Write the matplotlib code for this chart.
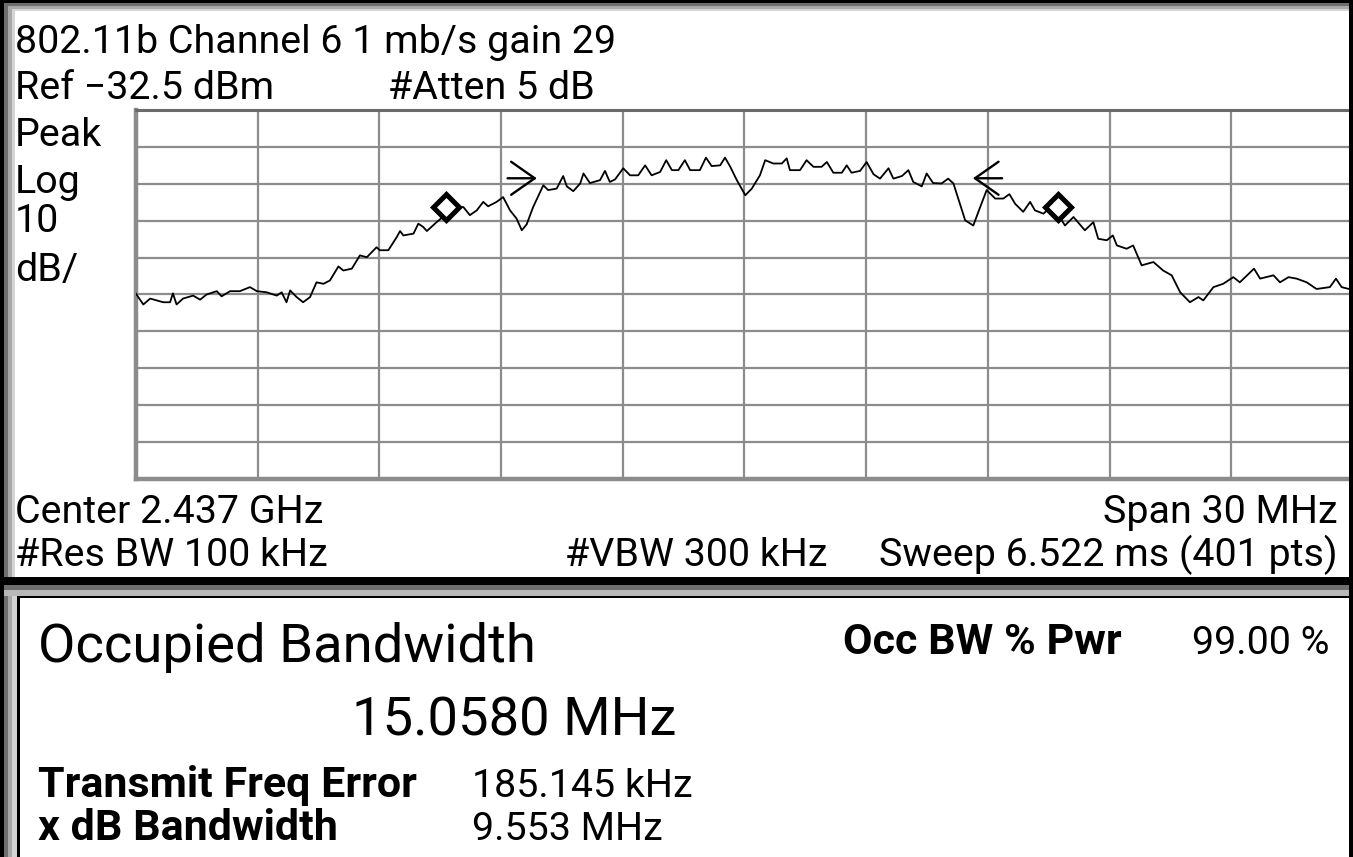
import matplotlib
matplotlib.use("Agg")
import matplotlib.pyplot as plt
from matplotlib.patches import Rectangle

W, H = 1353, 857

# spectrum trace (MHz, dBm)
freq_mhz = [
    2422.00, 2422.18, 2422.35, 2422.67, 2422.84, 2422.91, 2423.00, 2423.16, 2423.41, 2423.58,
    2423.74, 2423.99, 2424.11, 2424.32, 2424.56, 2424.81, 2424.98, 2425.22, 2425.47, 2425.59,
    2425.71, 2425.80, 2425.96, 2426.12, 2426.29, 2426.45, 2426.62, 2426.78, 2426.99, 2427.11,
    2427.32, 2427.52, 2427.69, 2427.93, 2428.01, 2428.22, 2428.43, 2428.51, 2428.59, 2428.84,
    2428.96, 2429.08, 2429.17, 2429.41, 2429.66, 2429.95, 2430.07, 2430.23, 2430.40, 2430.56,
    2430.68, 2430.89, 2431.05, 2431.22, 2431.38, 2431.51, 2431.63, 2431.79, 2432.04, 2432.16,
    2432.37, 2432.53, 2432.62, 2432.78, 2432.95, 2433.03, 2433.19, 2433.44, 2433.56, 2433.68,
    2433.81, 2434.01, 2434.18, 2434.38, 2434.55, 2434.71, 2434.92, 2435.07, 2435.21, 2435.37,
    2435.53, 2435.66, 2435.90, 2436.05, 2436.19, 2436.40, 2436.52, 2436.65, 2436.81, 2437.02,
    2437.18, 2437.38, 2437.51, 2437.71, 2437.92, 2438.04, 2438.12, 2438.37, 2438.53, 2438.70,
    2438.90, 2439.03, 2439.19, 2439.40, 2439.52, 2439.64, 2439.85, 2440.01, 2440.18, 2440.34,
    2440.55, 2440.67, 2440.88, 2441.04, 2441.16, 2441.37, 2441.49, 2441.65, 2441.86, 2442.02,
    2442.15, 2442.31, 2442.44, 2442.64, 2442.81, 2442.97, 2443.18, 2443.38, 2443.53, 2443.67,
    2443.87, 2444.04, 2444.16, 2444.37, 2444.53, 2444.74, 2444.90, 2445.11, 2445.39, 2445.60,
    2445.72, 2445.93, 2446.08, 2446.18, 2446.42, 2446.58, 2446.79, 2447.08, 2447.32, 2447.53,
    2447.74, 2447.98, 2448.19, 2448.31, 2448.56, 2448.80, 2449.05, 2449.21, 2449.56, 2449.71,
    2450.04, 2450.20, 2450.41, 2450.61, 2450.86, 2451.10, 2451.43, 2451.58, 2451.72, 2451.97,
]
level_dbm = [
    -82.3, -85.2, -83.6, -84.6, -84.6, -82.2, -85.2, -83.6, -82.8, -83.9,
    -82.5, -81.6, -83.0, -81.6, -81.6, -80.5, -81.6, -81.9, -82.8, -81.9,
    -84.6, -81.4, -83.2, -84.6, -83.2, -79.2, -79.6, -78.7, -74.9, -76.0,
    -75.5, -71.9, -72.4, -69.7, -70.5, -70.5, -66.9, -65.3, -66.5, -66.0,
    -63.3, -64.2, -65.3, -62.9, -60.6, -58.8, -58.8, -61.0, -59.7, -57.4,
    -58.6, -57.4, -56.1, -59.7, -61.9, -65.1, -63.5, -58.8, -52.9, -54.2,
    -53.8, -50.4, -53.2, -54.5, -52.4, -49.7, -52.3, -51.5, -49.0, -52.0,
    -51.3, -48.3, -50.2, -50.2, -47.5, -50.2, -49.3, -46.1, -48.8, -48.8,
    -46.1, -48.8, -48.8, -45.4, -47.7, -47.5, -45.4, -47.9, -51.5, -55.6,
    -53.8, -50.2, -46.1, -47.0, -47.0, -45.6, -48.8, -48.8, -46.1, -47.9,
    -47.9, -46.6, -49.5, -49.5, -47.5, -49.5, -49.0, -46.6, -49.9, -51.1,
    -48.3, -51.1, -50.4, -48.8, -52.0, -53.2, -49.7, -52.3, -52.4, -51.1,
    -52.4, -57.9, -62.4, -63.8, -58.8, -54.2, -56.5, -56.5, -55.3, -57.9,
    -60.1, -57.4, -59.7, -60.6, -58.9, -61.0, -63.8, -61.5, -65.1, -62.9,
    -67.4, -67.8, -66.5, -69.2, -70.1, -69.2, -74.6, -73.7, -76.0, -77.3,
    -81.9, -84.6, -83.2, -84.1, -80.5, -79.6, -77.8, -79.2, -75.5, -78.2,
    -77.3, -79.2, -77.8, -78.2, -79.2, -81.0, -80.5, -78.2, -80.5, -81.2,
]

# occupied bandwidth markers and x dB bandwidth arrows
obw_marker_freq = [2429.64, 2444.73]
obw_marker_level = [-58.9, -58.9]
xdb_arrow_freq = [2431.88, 2442.63]
xdb_arrow_level = -51.0

center_mhz = 2437.0
span_mhz = 30.0
ref_dbm = -32.5
db_per_div = 10.0

FONT = ["Roboto", "DejaVu Sans"]

fig = plt.figure(figsize=(W / 100, H / 100), dpi=100)
fig.patch.set_facecolor("#a0a0a0")
renderer = fig.canvas.get_renderer()


def rect(x0, y0, x1, y1, color, z=-5):
    # rectangle in screen pixels, origin top-left
    fig.add_artist(Rectangle((x0 / W, 1 - y1 / H), (x1 - x0) / W, (y1 - y0) / H,
                             transform=fig.transFigure, facecolor=color,
                             edgecolor="none", zorder=z))


def fit_size(s, width, weight="normal"):
    t = fig.text(0, 0, s, fontsize=20, fontweight=weight, family=FONT)
    w = t.get_window_extent(renderer).width
    t.remove()
    return 20 * width / w


def label(s, x, y, size, ha="left", weight="normal"):
    fig.text(x / W, 1 - y / H, s, fontsize=size, ha=ha, va="baseline",
             fontweight=weight, family=FONT, color="black", zorder=6)


# screen frame
rect(0, 0, W, H, "#000000", z=-9)
rect(4, 3, W, H, "#6e6e6e", z=-8)
rect(8, 6, W, H, "#a8a8a8", z=-7)
rect(12, 9, W, H, "#d4d4d4", z=-6)
rect(15, 11, W, 577, "white")
rect(0, 577, W, 585, "#000000")
rect(4, 585, W, 590, "#6e6e6e")
rect(4, 590, W, 596, "#b8b8b8")
rect(17, 596, W, H, "#000000")
rect(20, 598, W, H, "white")
rect(1349, 0, W, H, "#000000", z=10)

# trace display
ax = fig.add_axes([136 / W, 1 - 479 / H, (W - 136) / W, (479 - 110) / H])
ax.set_zorder(2)
ax.set_facecolor("white")
ax.set_xlim(center_mhz - span_mhz / 2, center_mhz + span_mhz / 2)
ax.set_ylim(ref_dbm - 10 * db_per_div, ref_dbm)
xt = [center_mhz - span_mhz / 2 + i * span_mhz / 10 for i in range(11)]
yt = [ref_dbm - i * db_per_div for i in range(11)]
for x in xt[1:-1]:
    ax.axvline(x, color="#8c8c8c", lw=1.6, zorder=1)
for y in yt[1:-1]:
    ax.axhline(y, color="#8c8c8c", lw=1.6, zorder=1)
ax.set_xticks([])
ax.set_yticks([])
for side in ["left", "bottom"]:
    ax.spines[side].set_color("#8c8c8c")
    ax.spines[side].set_linewidth(3.2)
ax.spines["top"].set_color("#6a6a6a")
ax.spines["top"].set_linewidth(2.2)
ax.spines["right"].set_visible(False)

ax.plot(freq_mhz, level_dbm, color="black", lw=1.3, zorder=3)
ax.plot(obw_marker_freq, obw_marker_level, ls="none", marker="D", ms=13,
        mfc="white", mec="black", mew=3.6, zorder=4)
ax.annotate("", xy=(xdb_arrow_freq[0], xdb_arrow_level),
            xytext=(xdb_arrow_freq[0] - 0.72, xdb_arrow_level),
            arrowprops=dict(arrowstyle="->,head_length=0.5,head_width=0.35",
                            color="black", lw=1.7, mutation_scale=34, shrinkA=0, shrinkB=0),
            zorder=4)
ax.annotate("", xy=(xdb_arrow_freq[1], xdb_arrow_level),
            xytext=(xdb_arrow_freq[1] + 0.72, xdb_arrow_level),
            arrowprops=dict(arrowstyle="->,head_length=0.5,head_width=0.35",
                            color="black", lw=1.7, mutation_scale=34, shrinkA=0, shrinkB=0),
            zorder=4)

# annotation texts
small = fit_size("802.11b Channel 6 1 mb/s gain 29", 600)
big = fit_size("Occupied Bandwidth", 497)
bold = fit_size("Transmit Freq Error", 377, "bold")

label("802.11b Channel 6 1 mb/s gain 29", 15, 53, small)
label("Ref \u221232.5 dBm", 15, 99, small)
label("#Atten 5 dB", 388, 99, small)
label("Peak", 15, 146, small)
label("Log", 15, 193, small)
label("10", 15, 232, small)
label("dB/", 15, 281, small)
label("Center 2.437 GHz", 15, 523, small)
label("Span 30 MHz", 1338, 523, small, ha="right")
label("#Res BW 100 kHz", 15, 566, small)
label("#VBW 300 kHz", 565, 566, small)
label("Sweep 6.522 ms (401 pts)", 1338, 566, small, ha="right")

label("Occupied Bandwidth", 38, 662, big)
label("15.0580 MHz", 352, 735, big)
label("Occ BW % Pwr", 843, 654, bold, weight="bold")
label("99.00 %", 1330, 654, small, ha="right")
label("Transmit Freq Error", 38, 797, bold, weight="bold")
label("185.145 kHz", 472, 797, small)
label("x dB Bandwidth", 38, 840, bold, weight="bold")
label("9.553 MHz", 472, 840, small)

fig.savefig("out.png", dpi=100)
